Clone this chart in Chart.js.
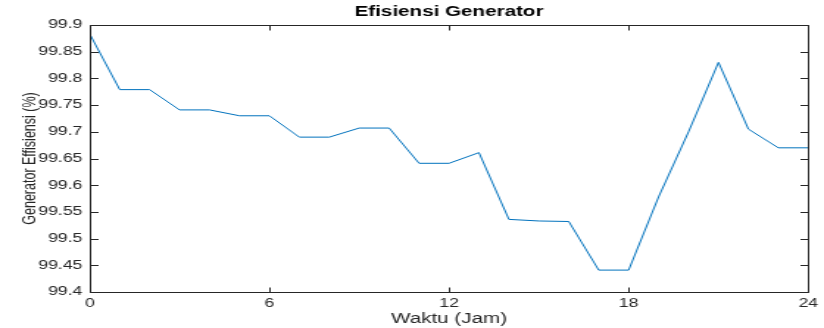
<!DOCTYPE html>
<html>
<head>
<meta charset="utf-8">
<script src="https://cdn.jsdelivr.net/npm/chart.js@4"></script>
<style>
html,body{margin:0;padding:0;background:#fff;overflow:hidden;width:824px;height:328px;}
#wrap{width:560px;height:328px;transform:scaleX(1.4714);transform-origin:0 0;}
</style>
</head>
<body>
<div id="wrap"><canvas id="c" width="560" height="328"></canvas></div>
<script>
const hours = [0,1,2,3,4,5,6,7,8,9,10,11,12,13,14,15,16,17,18,19,20,21,22,23,24];
const efisiensi = [99.883,99.779,99.779,99.741,99.741,99.730,99.730,99.690,99.690,99.707,99.707,99.641,99.641,99.661,99.536,99.533,99.532,99.441,99.441,99.578,99.700,99.830,99.705,99.670,99.670];
const xTicks = [0,6,12,18,24];
const yTicks = [99.4,99.45,99.5,99.55,99.6,99.65,99.7,99.75,99.8,99.85,99.9];

const FONT = 'Liberation Sans, Arial, Helvetica, sans-serif';

const boxPlugin = {
  id: 'box',
  afterLayout(chart) {
    if (chart.titleBlock) {
      chart.titleBlock.left = chart.chartArea.left;
      chart.titleBlock.right = chart.chartArea.right;
    }
  },
  afterDatasetsDraw(chart) {
    const {ctx, chartArea: a, scales} = chart;
    ctx.save();
    ctx.strokeStyle = '#262626';
    ctx.lineWidth = 1;
    ctx.beginPath();
    const l = Math.round(a.left)+0.5, t = Math.round(a.top)+0.5, r = Math.round(a.right)+0.5, b = Math.round(a.bottom)+0.5;
    ctx.rect(l, t, r-l, b-t);
    const LV = 5, LH = 5.5;
    xTicks.forEach(v => {
      const x = Math.round(scales.x.getPixelForValue(v)) + 0.5;
      ctx.moveTo(x, b); ctx.lineTo(x, b - LV);
      ctx.moveTo(x, t); ctx.lineTo(x, t + LV);
    });
    yTicks.forEach(v => {
      const y = Math.round(scales.y.getPixelForValue(v)) + 0.5;
      ctx.moveTo(l, y); ctx.lineTo(l + LH, y);
      ctx.moveTo(r, y); ctx.lineTo(r - LH, y);
    });
    ctx.stroke();
    ctx.restore();
  }
};

new Chart(document.getElementById('c'), {
  type: 'line',
  data: {
    datasets: [{
      data: hours.map((h,i) => ({x:h, y:efisiensi[i]})),
      borderColor: '#0072BD',
      borderWidth: 1,
      pointRadius: 0,
      tension: 0,
      fill: false
    }]
  },
  options: {
    responsive: false,
    animation: false,
    devicePixelRatio: 1,
    layout: {padding: {left: 0, right: 8, top: 0, bottom: 0}},
    plugins: {
      legend: {display: false},
      tooltip: {enabled: false},
      title: {
        display: true,
        text: 'Efisiensi Generator',
        color: '#000',
        font: {family: FONT, size: 14, weight: 'bold'},
        padding: {top: 3.5, bottom: 4.7}
      }
    },
    scales: {
      x: {
        type: 'linear',
        min: 0, max: 24,
        afterBuildTicks: s => { s.ticks = xTicks.map(v => ({value: v})); },
        afterFit: s => { s.height = 36; },
        grid: {display: false, drawTicks: false, tickLength: 0},
        border: {display: false},
        ticks: {color: '#262626', font: {family: FONT, size: 12}, padding: 4, maxRotation: 0},
        title: {display: true, text: 'Waktu (Jam)', color: '#262626', font: {family: FONT, size: 14}, padding: {top: 0, bottom: 0}}
      },
      y: {
        min: 99.4, max: 99.9,
        afterBuildTicks: s => { s.ticks = yTicks.map(v => ({value: v})); },
        afterFit: s => { s.width = 61; },
        grid: {display: false, drawTicks: false, tickLength: 0},
        border: {display: false},
        ticks: {color: '#262626', font: {family: FONT, size: 12}, padding: 5,
          callback: v => String(+v.toFixed(2))},
        title: {display: true, text: 'Generator Effisiensi (%)', color: '#262626', font: {family: FONT, size: 12.5}, padding: {top: 13, bottom: 0}}
      }
    }
  },
  plugins: [boxPlugin]
});
</script>
</body>
</html>
